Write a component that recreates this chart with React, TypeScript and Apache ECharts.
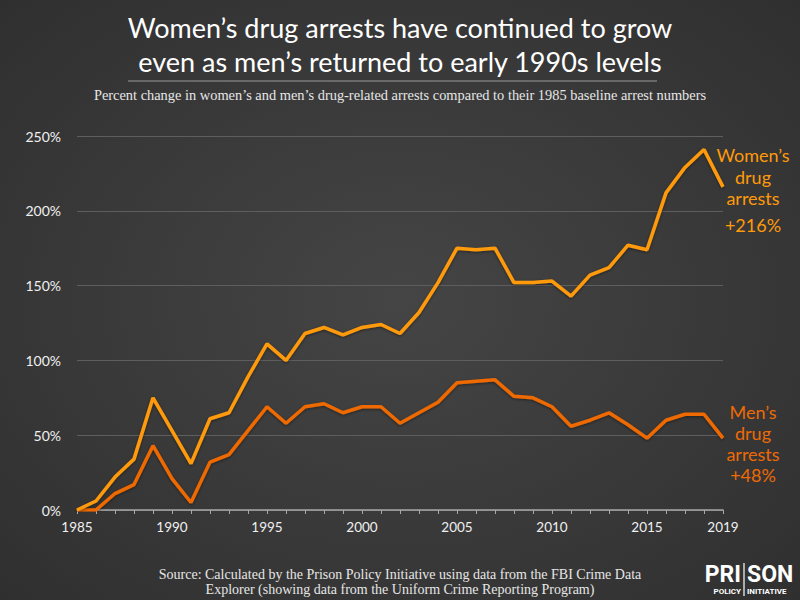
import React, { useEffect, useRef } from "react";
import * as echarts from "echarts";

const years = [1985, 1986, 1987, 1988, 1989, 1990, 1991, 1992, 1993, 1994, 1995, 1996, 1997, 1998, 1999, 2000, 2001, 2002, 2003, 2004, 2005, 2006, 2007, 2008, 2009, 2010, 2011, 2012, 2013, 2014, 2015, 2016, 2017, 2018, 2019];
const womenPct = [0, 6, 22, 34, 75, 53, 31, 61, 65, 89, 111, 100, 118, 122, 117, 122, 124, 118, 132, 152, 175, 174, 175, 152, 152, 153, 143, 157, 162, 177, 174, 212, 229, 241, 216];
const menPct = [0, 0, 11, 17, 43, 21, 5, 32, 37, 53, 69, 58, 69, 71, 65, 69, 69, 58, 65, 72, 85, 86, 87, 76, 75, 69, 56, 60, 65, 57, 48, 60, 64, 64, 48];
const xLabelYears = [1985, 1990, 1995, 2000, 2005, 2010, 2015, 2019];

const titleText = "Women\u2019s drug arrests have continued to grow\neven as men\u2019s returned to early 1990s levels";
const subtitleText = "Percent change in women\u2019s and men\u2019s drug-related arrests compared to their 1985 baseline arrest numbers";
const sourceText = "Source: Calculated by the Prison Policy Initiative using data from the FBI Crime Data\nExplorer (showing data from the Uniform Crime Reporting Program)";

const WOMEN_COLOR = "#FF9A0A";
const MEN_COLOR = "#EE6A05";

export default function App() {
  const ref = useRef<HTMLDivElement>(null);
  useEffect(() => {
    if (!ref.current) return;
    const chart = echarts.init(ref.current, null, { renderer: "svg" });
    const womenLast = womenPct[womenPct.length - 1];
    const menLast = menPct[menPct.length - 1];
    const labelFont = "Lato, 'Open Sans', sans-serif";
    const axisFont = "'Liberation Sans Narrow', Lato, sans-serif";
    chart.setOption({
      animation: false,
      backgroundColor: {
        type: "radial",
        x: 0.5,
        y: 0.5,
        r: 0.75,
        colorStops: [
          { offset: 0, color: "#454545" },
          { offset: 1, color: "#2e2e2e" },
        ],
      },
      title: [
        {
          text: titleText,
          left: "center",
          top: 5,
          textStyle: {
            color: "#ffffff",
            fontFamily: labelFont,
            fontWeight: "normal",
            fontSize: 27,
            lineHeight: 34,
            align: "center",
          },
        },
        {
          text: subtitleText,
          left: "center",
          top: 83,
          textStyle: {
            color: "#e6e6e6",
            fontFamily: "Georgia, 'Liberation Serif', serif",
            fontWeight: "normal",
            fontSize: 14.4,
          },
        },
        {
          text: sourceText,
          left: "center",
          top: 562,
          textStyle: {
            color: "#e6e6e6",
            fontFamily: "'Liberation Serif', serif",
            fontWeight: "normal",
            fontSize: 14,
            lineHeight: 15,
            align: "center",
          },
        },
      ],
      grid: { left: 77, right: 77, top: 136, bottom: 90 },
      xAxis: {
        type: "value",
        min: 1985,
        max: 2019,
        interval: 1,
        splitLine: { show: false },
        axisLine: { show: true, lineStyle: { color: "#a8a8a8", width: 1.5 } },
        axisTick: { show: true, length: 4, lineStyle: { color: "#a8a8a8" } },
        axisLabel: {
          color: "#f0f0f0",
          fontFamily: axisFont,
          fontSize: 13.5,
          margin: 10,
          formatter: (v: number) => (xLabelYears.includes(v) ? String(v) : ""),
        },
      },
      yAxis: {
        type: "value",
        min: 0,
        max: 250,
        interval: 50,
        axisLine: { show: false },
        axisTick: { show: false },
        splitLine: { lineStyle: { color: "#5e5e5e", width: 1 } },
        axisLabel: {
          color: "#f0f0f0",
          fontFamily: axisFont,
          fontSize: 14,
          margin: 16,
          formatter: "{value}%",
        },
      },
      series: [
        {
          name: "Men",
          type: "line",
          data: years.map((y, i) => [y, menPct[i]]),
          showSymbol: false,
          symbol: "none",
          lineStyle: {
            color: MEN_COLOR,
            width: 3.5,
            shadowColor: "rgba(0,0,0,0.45)",
            shadowBlur: 3,
            shadowOffsetY: 1,
          },
          z: 2,
        },
        {
          name: "Women",
          type: "line",
          data: years.map((y, i) => [y, womenPct[i]]),
          showSymbol: false,
          symbol: "none",
          lineStyle: {
            color: WOMEN_COLOR,
            width: 3.5,
            shadowColor: "rgba(0,0,0,0.45)",
            shadowBlur: 3,
            shadowOffsetY: 1,
          },
          z: 3,
        },
      ],
      graphic: [
        {
          type: "line",
          shape: { x1: 128, y1: 81, x2: 657, y2: 81 },
          style: { stroke: "#9a9a9a", lineWidth: 1 },
        },
        ...["Women\u2019s", "drug", "arrests"].map((t, i) => ({
          type: "text",
          x: 753,
          y: 155 + i * 21.5,
          style: {
            text: t,
            fill: WOMEN_COLOR,
            font: `18px ${labelFont}`,
            textAlign: "center",
            textVerticalAlign: "middle",
          },
        })),
        {
          type: "text",
          x: 753,
          y: 225,
          style: {
            text: `+${womenLast}%`,
            fill: WOMEN_COLOR,
            font: `18px ${labelFont}`,
            textAlign: "center",
            textVerticalAlign: "middle",
          },
        },
        ...["Men\u2019s", "drug", "arrests", `+${menLast}%`].map((t, i) => ({
          type: "text",
          x: 753,
          y: 412 + i * 21,
          style: {
            text: t,
            fill: MEN_COLOR,
            font: `18px ${labelFont}`,
            textAlign: "center",
            textVerticalAlign: "middle",
          },
        })),
        {
          type: "text",
          x: 741,
          y: 574,
          style: { text: "PRI", fill: "#ffffff", font: "bold 23px Roboto, sans-serif", textAlign: "right", textVerticalAlign: "middle" },
        },
        {
          type: "text",
          x: 747,
          y: 574,
          style: { text: "SON", fill: "#ffffff", font: "bold 23px Roboto, sans-serif", textAlign: "left", textVerticalAlign: "middle" },
        },
        {
          type: "text",
          x: 741,
          y: 591,
          style: { text: "POLICY", fill: "#ffffff", font: "bold 8px Roboto, sans-serif", textAlign: "right", textVerticalAlign: "middle" },
        },
        {
          type: "text",
          x: 747,
          y: 591,
          style: { text: "INITIATIVE", fill: "#ffffff", font: "bold 8px Roboto, sans-serif", textAlign: "left", textVerticalAlign: "middle" },
        },
        {
          type: "line",
          shape: { x1: 744, y1: 563, x2: 744, y2: 596 },
          style: { stroke: "#ffffff", lineWidth: 1.2 },
        },
      ],
    });
    return () => chart.dispose();
  }, []);
  return <div ref={ref} style={{ width: 800, height: 600, position: "absolute", left: 0, top: 0 }} />;
}
